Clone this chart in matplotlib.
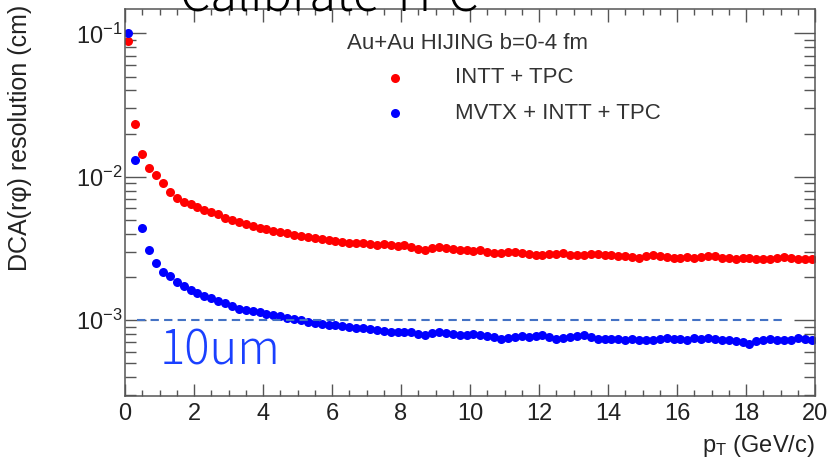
import numpy as np
import matplotlib
matplotlib.use("Agg")
import matplotlib.pyplot as plt
from matplotlib.ticker import MultipleLocator, LogLocator, NullFormatter

plt.rcParams['font.family'] = ['Liberation Sans', 'DejaVu Sans']
plt.rcParams['mathtext.fontset'] = 'custom'
plt.rcParams['mathtext.rm'] = 'Liberation Sans'
plt.rcParams['mathtext.it'] = 'Liberation Sans:italic'

# pT bin centres (GeV/c), 0.2 GeV/c wide bins
pt = np.arange(0.1, 20.0, 0.2)

# DCA(r phi) resolution, in units of 1e-3 cm
intt_tpc = [89, 23.5, 14.3, 11.5, 10.2, 9.0, 7.8, 7.1, 6.7, 6.4,
            6.1, 5.9, 5.7, 5.5, 5.15, 4.95, 4.8, 4.65, 4.5, 4.4,
            4.3, 4.2, 4.12, 4.05, 3.95, 3.88, 3.8, 3.72, 3.68, 3.62,
            3.56, 3.52, 3.46, 3.44, 3.42, 3.40, 3.36, 3.38, 3.34, 3.30,
            3.32, 3.24, 3.14, 3.10, 3.18, 3.24, 3.2, 3.12, 3.06, 3.06,
            3.04, 3.06, 3.0, 2.95, 2.92, 2.96, 3.0, 2.94, 2.88, 2.84,
            2.86, 2.88, 2.9, 2.92, 2.82, 2.84, 2.86, 2.88, 2.9, 2.84,
            2.82, 2.8, 2.78, 2.74, 2.7, 2.78, 2.84, 2.8, 2.74, 2.72,
            2.7, 2.74, 2.72, 2.76, 2.8, 2.78, 2.72, 2.7, 2.68, 2.7,
            2.72, 2.68, 2.66, 2.66, 2.7, 2.74, 2.72, 2.68, 2.66, 2.66]

mvtx_intt_tpc = [100, 13.0, 4.4, 3.1, 2.5, 2.15, 2.02, 1.85, 1.72, 1.63,
                 1.55, 1.48, 1.42, 1.36, 1.31, 1.25, 1.2, 1.17, 1.15, 1.13,
                 1.1, 1.08, 1.06, 1.04, 1.02, 1.0, 0.97, 0.95, 0.94, 0.93,
                 0.93, 0.915, 0.9, 0.885, 0.875, 0.865, 0.85, 0.835, 0.83, 0.82,
                 0.83, 0.82, 0.80, 0.785, 0.81, 0.83, 0.815, 0.8, 0.79, 0.79,
                 0.795, 0.79, 0.77, 0.755, 0.74, 0.745, 0.76, 0.77, 0.765, 0.775,
                 0.78, 0.76, 0.74, 0.75, 0.765, 0.775, 0.785, 0.76, 0.74, 0.735,
                 0.74, 0.735, 0.73, 0.735, 0.725, 0.73, 0.725, 0.74, 0.75, 0.74,
                 0.735, 0.73, 0.745, 0.74, 0.75, 0.735, 0.725, 0.72, 0.71, 0.70,
                 0.685, 0.715, 0.725, 0.735, 0.73, 0.725, 0.73, 0.745, 0.735, 0.73]

# 10 um reference line
ref_level = 1e-3
ref_start, ref_end = 0.34, 19.07

red_vals = np.array(intt_tpc) * 1e-3
blue_vals = np.array(mvtx_intt_tpc) * 1e-3

fig = plt.figure(figsize=(8.38, 4.59), dpi=100)
ax = fig.add_axes([0.1492, 0.1373, 0.8234, 0.8431])

ax.plot(pt, red_vals, 'o', color='#ff0000', ms=6.5, mew=0)
ax.plot(pt, blue_vals, 'o', color='#0000ff', ms=6.5, mew=0)
ax.hlines(ref_level, ref_start, ref_end, colors='#4472c4', lw=1.5,
          linestyles=(0, (4, 2.5)))

ax.set_yscale('log')
ax.set_xlim(0, 20)
ax.set_ylim(2.95e-4, 0.148)

ax.xaxis.set_major_locator(MultipleLocator(2))
ax.xaxis.set_minor_locator(MultipleLocator(0.5))
ax.yaxis.set_major_locator(LogLocator(base=10))
ax.yaxis.set_minor_locator(LogLocator(base=10, subs=np.arange(2, 10)))
ax.yaxis.set_minor_formatter(NullFormatter())

for s in ax.spines.values():
    s.set_color('#555555')
    s.set_linewidth(1.1)
ax.tick_params(which='both', direction='in', top=True, right=True,
               color='#555555', labelsize=17, labelcolor='#222222', width=1.0)
ax.tick_params(axis='x', which='major', length=9, pad=5)
ax.tick_params(axis='x', which='minor', length=4.5)
ax.tick_params(axis='y', which='major', length=15, pad=2)
ax.tick_params(axis='y', which='minor', length=8)

ax.set_xlabel(r'p$_{\rm T}$ (GeV/c)', fontsize=17, loc='right', color='#222222')
ax.xaxis.set_label_coords(1.0, -0.095)
ax.set_ylabel(u'DCA(r\u03c6) resolution (cm)', fontsize=18, loc='top', color='#222222')
ax.yaxis.set_label_coords(-0.135, 1.01)

# legend block
ax.text(0.322, 0.912, 'Au+Au HIJING b=0-4 fm', transform=ax.transAxes,
        fontsize=16, ha='left', va='center', color='#333333')
ax.plot([0.391], [0.822], 'o', color='#ff0000', ms=6.5, mew=0,
        transform=ax.transAxes, clip_on=False)
ax.plot([0.391], [0.731], 'o', color='#0000ff', ms=6.5, mew=0,
        transform=ax.transAxes, clip_on=False)
ax.text(0.478, 0.822, 'INTT + TPC', transform=ax.transAxes,
        fontsize=16, ha='left', va='center', color='#333333')
ax.text(0.478, 0.731, 'MVTX + INTT + TPC', transform=ax.transAxes,
        fontsize=16, ha='left', va='center', color='#333333')

# slide overlays
fig.text(0.19, 0.205, '10um', fontsize=34, color='#1a40ff',
         family=['Noto Sans CJK JP', 'DejaVu Sans'], weight='light',
         ha='left', va='baseline')
fig.text(0.215, 0.974, 'Calibrate TPC', fontsize=35, color='black',
         family=['Noto Sans CJK JP', 'DejaVu Sans'], weight='light',
         ha='left', va='baseline')

fig.savefig('out.png', dpi=100)
